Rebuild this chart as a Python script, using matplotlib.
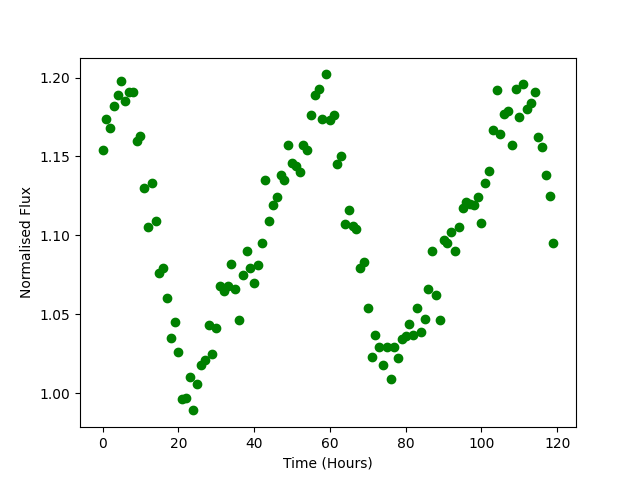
import numpy as np
import matplotlib
matplotlib.use("Agg")
import matplotlib.pyplot as plt

# hourly samples, 0..119
hours = np.arange(120)

flux = [
    1.154, 1.174, 1.168, 1.182, 1.189, 1.198, 1.185, 1.191, 1.191, 1.160,
    1.163, 1.130, 1.105, 1.133, 1.109, 1.076, 1.079, 1.060, 1.035, 1.045,
    1.026, 0.996, 0.997, 1.010, 0.989, 1.006, 1.018, 1.021, 1.043, 1.025,
    1.041, 1.068, 1.065, 1.068, 1.082, 1.066, 1.046, 1.075, 1.090, 1.079,
    1.070, 1.081, 1.095, 1.135, 1.109, 1.119, 1.124, 1.138, 1.135, 1.157,
    1.146, 1.144, 1.140, 1.157, 1.154, 1.176, 1.189, 1.193, 1.174, 1.202,
    1.173, 1.176, 1.145, 1.150, 1.107, 1.116, 1.106, 1.104, 1.079, 1.083,
    1.054, 1.023, 1.037, 1.029, 1.018, 1.029, 1.009, 1.029, 1.022, 1.034,
    1.036, 1.044, 1.037, 1.054, 1.039, 1.047, 1.066, 1.090, 1.062, 1.046,
    1.097, 1.095, 1.102, 1.090, 1.105, 1.117, 1.121, 1.120, 1.119, 1.124,
    1.108, 1.133, 1.141, 1.167, 1.192, 1.164, 1.177, 1.179, 1.157, 1.193,
    1.175, 1.196, 1.180, 1.184, 1.191, 1.162, 1.156, 1.138, 1.125, 1.095,
]

fig = plt.figure(figsize=(6.4, 4.8), dpi=100)
plt.plot(hours, flux, 'o', color='green')
plt.xlabel("Time (Hours)")
plt.ylabel("Normalised Flux")
plt.savefig("out.png")
